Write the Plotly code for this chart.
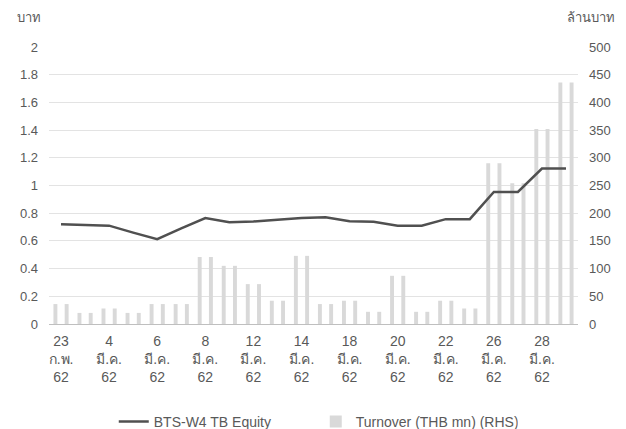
import plotly.graph_objects as go

# trading days (category labels)
dates = ["23 ก.พ. 62", "1 มี.ค. 62", "4 มี.ค. 62", "5 มี.ค. 62", "6 มี.ค. 62", "7 มี.ค. 62",
         "8 มี.ค. 62", "11 มี.ค. 62", "12 มี.ค. 62", "13 มี.ค. 62", "14 มี.ค. 62", "15 มี.ค. 62",
         "18 มี.ค. 62", "19 มี.ค. 62", "20 มี.ค. 62", "21 มี.ค. 62", "22 มี.ค. 62", "25 มี.ค. 62",
         "26 มี.ค. 62", "27 มี.ค. 62", "28 มี.ค. 62", "29 มี.ค. 62"]

# BTS-W4 price (baht, LHS)
price = [0.72, 0.715, 0.71, 0.66, 0.613, 0.69, 0.765, 0.735, 0.74, 0.752, 0.765,
         0.77, 0.742, 0.738, 0.71, 0.71, 0.757, 0.757, 0.953, 0.953, 1.122, 1.122]

# turnover (THB mn, RHS)
turnover = [36, 20, 28, 20, 36, 36, 121, 105, 72, 42, 123,
            36, 42, 22, 87, 22, 42, 28, 290, 254, 352, 436]

# shown x tick labels (every 2nd day)
tick_idx = list(range(0, 22, 2))
tick_text = ["23<br>ก.พ.<br>62", "4<br>มี.ค.<br>62", "6<br>มี.ค.<br>62", "8<br>มี.ค.<br>62",
             "12<br>มี.ค.<br>62", "14<br>มี.ค.<br>62", "18<br>มี.ค.<br>62", "20<br>มี.ค.<br>62",
             "22<br>มี.ค.<br>62", "26<br>มี.ค.<br>62", "28<br>มี.ค.<br>62"]

txt = "#595959"
font = "Liberation Sans, Noto Sans, DejaVu Sans, sans-serif"

fig = go.Figure()

# bars drawn twice per day like the source chart
fig.add_trace(go.Bar(x=dates, y=turnover, name="Turnover (THB mn) (RHS)",
                     marker=dict(color="#d9d9d9", line=dict(width=0)), yaxis="y"))
fig.add_trace(go.Bar(x=dates, y=turnover, name="Turnover (THB mn) (RHS)", showlegend=False,
                     marker=dict(color="#d9d9d9", line=dict(width=0)), yaxis="y"))

fig.add_trace(go.Scatter(x=dates, y=price, name="BTS-W4 TB Equity", mode="lines",
                         line=dict(color="#505050", width=2.5), yaxis="y2"))

# page body has an 8px margin, so the figure is 8px smaller than the window
fig.update_layout(
        width=618, height=421,
        margin=dict(l=38, r=48, t=39, b=105),
        paper_bgcolor="white", plot_bgcolor="white",
        font=dict(family=font, size=13, color=txt),
        barmode="group", bargap=0.066, bargroupgap=0.65,
        showlegend=True,
        legend=dict(orientation="h", x=0.498, xanchor="center", xref="container",
                    y=0.017, yanchor="middle", yref="container", entrywidth=157,
                    traceorder="reversed", font=dict(size=14, color=txt), itemwidth=30),
        xaxis=dict(type="category", tickmode="array", tickvals=[dates[i] for i in tick_idx],
                   ticktext=tick_text, tickangle=0, showgrid=False, showline=True,
                   linecolor="#bfbfbf", linewidth=1, ticks="outside", ticklen=4,
                   tickcolor="rgba(0,0,0,0)", tickfont=dict(size=14)),
        yaxis=dict(side="right", range=[0, 500], dtick=50, showgrid=True, gridcolor="#e3e3e3",
                   zeroline=False, showline=False, ticks="", ticklabelstandoff=10,
                   tickfont=dict(size=13)),
        yaxis2=dict(side="left", overlaying="y", range=[0, 2], dtick=0.2, showgrid=False,
                    zeroline=False, showline=False, ticks="", ticklabelstandoff=10,
                    tickfont=dict(size=13)),
        annotations=[
            dict(text="บาท", xref="paper", yref="paper", x=-0.064, y=1.108, showarrow=False,
                 xanchor="left", yanchor="middle", font=dict(size=13, color=txt)),
            dict(text="ล้านบาท", xref="paper", yref="paper", x=0.976, y=1.108, showarrow=False,
                 xanchor="left", yanchor="middle", font=dict(size=13, color=txt)),
        ],
        )

fig.write_html("out.html")
